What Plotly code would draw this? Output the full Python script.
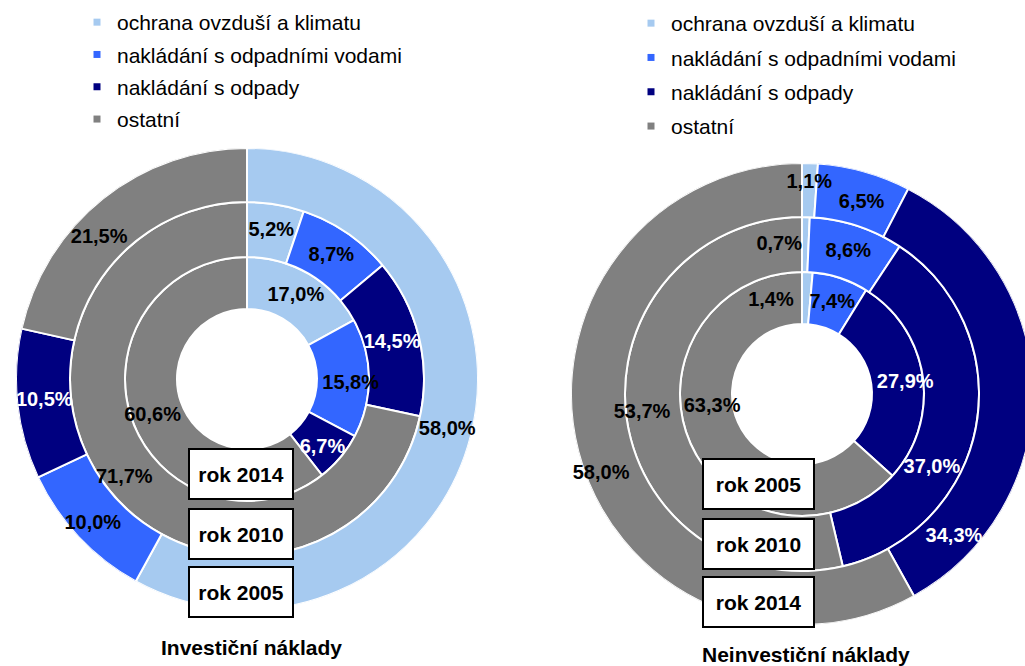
import math
import plotly.graph_objects as go

# ---------------- data ----------------
categories = ["ochrana ovzduší a klimatu", "nakládání s odpadními vodami",
              "nakládání s odpady", "ostatní"]
colors = ["#A6CAF0", "#3366FF", "#000080", "#808080"]
label_colors = ["#000000", "#000000", "#FFFFFF", "#000000"]

# Investiční náklady – rings from inside to outside
inv_years = ["rok 2014", "rok 2010", "rok 2005"]
inv_2014 = [17.0, 15.8, 6.7, 60.6]
inv_2010 = [5.2, 8.7, 14.5, 71.7]
inv_2005 = [58.0, 10.0, 10.5, 21.5]

# Neinvestiční náklady – rings from inside to outside
neinv_years = ["rok 2005", "rok 2010", "rok 2014"]
neinv_2005 = [1.4, 7.4, 27.9, 63.3]
neinv_2010 = [0.7, 8.6, 37.0, 53.7]
neinv_2014 = [1.1, 6.5, 34.3, 58.0]

titles = ["Investiční náklady", "Neinvestiční náklady"]

# ---------------- layout constants ----------------
W, H = 1040, 666
FONT = "Liberation Sans, Arial, sans-serif"
ring_edges = [70, 122, 177, 231]          # px radii: hole, ring boundaries, outer
centers = [(247, 379), (802, 394)]        # px centres of the two donuts
R = ring_edges[-1]

# label placement tweaks: (chart, ring, category) ->
# (fraction along slice, fraction across ring, text position)
label_style = {
    # Investiční
    (0, 0, 1): (0.56, 0.65, "middle center"),
    (0, 0, 2): (0.6, 0.62, "middle center"),
    (0, 0, 3): (0.49, 0.6, "middle center"),
    (0, 1, 3): (0.5, 0.65, "middle center"),
    (0, 2, 0): (0.5, 0.55, "middle center"),
    (0, 2, 1): (0.5, 0.64, "middle center"),
    (0, 2, 3): (0.4, 0.5, "middle center"),
    # Neinvestiční
    (1, 0, 0): (-1.0, 0.45, "middle left"),
    (1, 0, 2): (0.52, 0.65, "middle center"),
    (1, 0, 3): (0.57, 0.4, "middle center"),
    (1, 1, 0): (0.0, 0.5, "middle left"),
    (1, 1, 2): (0.647, 0.5, "middle center"),
    (1, 1, 3): (0.5, 0.71, "middle center"),
    (1, 2, 0): (0.5, 0.63, "middle center"),
    (1, 2, 1): (0.57, 0.43, "middle center"),
    (1, 2, 2): (0.857, 0.59, "middle center"),
    (1, 2, 3): (0.465, 0.73, "middle center"),
}


def px_x(x):
    return x / W


def px_y(y):
    return 1 - y / H


def fmt(v):
    return f"{v:.1f}".replace(".", ",") + "%"


charts = [
    [inv_2014, inv_2010, inv_2005],
    [neinv_2005, neinv_2010, neinv_2014],
]
years = [inv_years, neinv_years]

fig = go.Figure()

for ci, rings in enumerate(charts):
    subplot = "polar" if ci == 0 else "polar2"
    legend = "legend" if ci == 0 else "legend2"
    # legend entries
    for k, cat in enumerate(categories):
        fig.add_trace(go.Scatterpolar(
            r=[None], theta=[None], mode="markers", name=cat,
            marker=dict(symbol="square", size=7, color=colors[k]),
            subplot=subplot, legend=legend, legendgroup=f"{ci}-{k}",
            showlegend=True, hoverinfo="skip"))
    for ri, vals in enumerate(rings):
        total = sum(vals)
        starts, widths = [], []
        acc = 0.0
        for v in vals:
            starts.append(acc / total * 360)
            widths.append(v / total * 360)
            acc += v
        base = ring_edges[ri]
        thick = ring_edges[ri + 1] - ring_edges[ri]
        fig.add_trace(go.Barpolar(
            r=[thick] * len(vals),
            base=base,
            theta=[s + w / 2 for s, w in zip(starts, widths)],
            width=widths,
            marker=dict(color=colors, line=dict(color="white", width=2)),
            subplot=subplot, showlegend=False, hoverinfo="skip"))
        # labels
        rr, tt, tx, tc, tp = [], [], [], [], []
        for k, v in enumerate(vals):
            frac, rfrac, pos = label_style.get((ci, ri, k), (0.5, 0.5, "middle center"))
            rr.append(ring_edges[ri] + thick * rfrac)
            tt.append(starts[k] + widths[k] * frac)
            tx.append(fmt(v))
            tc.append(label_colors[k])
            tp.append(pos)
        fig.add_trace(go.Scatterpolar(
            r=rr, theta=tt, text=tx, mode="text", textposition=tp,
            textfont=dict(family=FONT, size=20, color=tc, weight="bold"),
            subplot=subplot, showlegend=False, hoverinfo="skip"))

polar_common = dict(
    bgcolor="rgba(0,0,0,0)",
    radialaxis=dict(range=[0, R], visible=False),
    angularaxis=dict(rotation=90, direction="clockwise", visible=False),
    barmode="overlay",
)

layout = dict(width=W, height=H, margin=dict(l=0, r=0, t=0, b=0),
              paper_bgcolor="white", plot_bgcolor="white",
              font=dict(family=FONT, color="black"))
for ci, (cx, cy) in enumerate(centers):
    key = "polar" if ci == 0 else "polar2"
    layout[key] = dict(
        domain=dict(x=[px_x(cx - R), px_x(cx + R)],
                    y=[px_y(cy + R), px_y(cy - R)]),
        **polar_common)

layout["legend"] = dict(x=px_x(77), y=px_y(2), xanchor="left", yanchor="top",
                        font=dict(family=FONT, size=21, color="black"),
                        tracegroupgap=2, bgcolor="rgba(0,0,0,0)")
layout["legend2"] = dict(x=px_x(631), y=px_y(3), xanchor="left", yanchor="top",
                         font=dict(family=FONT, size=21, color="black"),
                         tracegroupgap=4, bgcolor="rgba(0,0,0,0)")
fig.update_layout(**layout)

# year boxes
box_specs = [
    (241, [474, 534, 592]),
    (758, [484, 544, 602]),
]
for ci, (bx, bys) in enumerate(box_specs):
    for yr, by in zip(years[ci], bys):
        fig.add_annotation(
            x=px_x(bx), y=px_y(by), xref="paper", yref="paper",
            xanchor="center", yanchor="middle",
            text=f"<b>{yr}</b>", showarrow=False,
            font=dict(family=FONT, size=21, color="black"),
            bgcolor="white", bordercolor="black", borderwidth=2,
            width=100 if ci == 0 else 107, height=46, borderpad=1)

# titles
for (tx_, ty_), t in zip([(251, 647), (806, 654)], titles):
    fig.add_annotation(x=px_x(tx_), y=px_y(ty_), xref="paper", yref="paper",
                       xanchor="center", yanchor="middle",
                       text=f"<b>{t}</b>", showarrow=False,
                       font=dict(family=FONT, size=21, color="black"))

fig.write_html("out.html", config={"displayModeBar": False}, post_script=(
    "document.body.style.margin='0';"
    "document.body.style.overflow='hidden';"
    "document.documentElement.style.overflow='hidden';"))
